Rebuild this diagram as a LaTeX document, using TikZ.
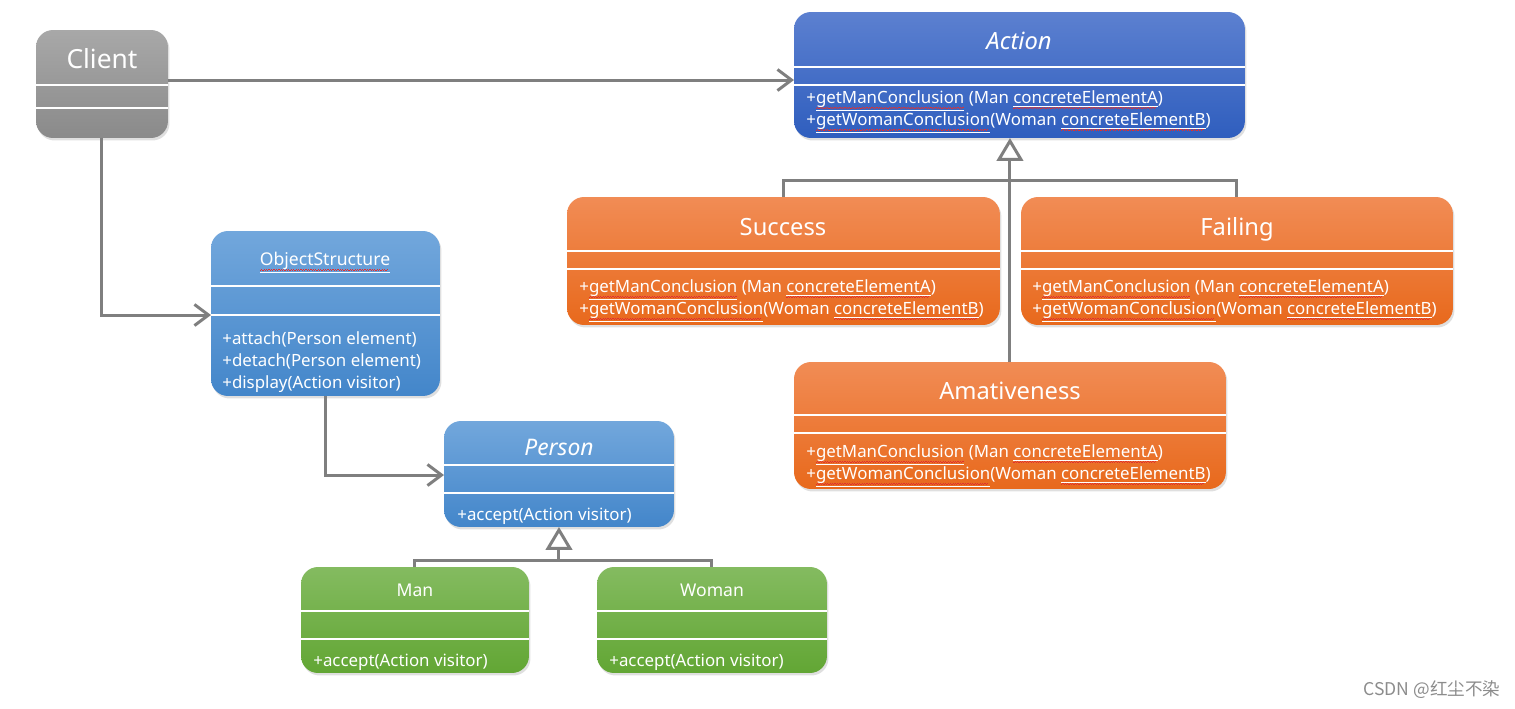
\documentclass[tikz,border=0pt]{standalone}
\usepackage{fontspec}
\setmainfont{Noto Sans}
\newfontfamily\cjkfont{Noto Sans CJK SC}
\usetikzlibrary{arrows.meta,shadows}

\definecolor{linegray}{HTML}{7F7F7F}
\definecolor{grayTop}{HTML}{A8A8A8}
\definecolor{grayBot}{HTML}{8A8A8A}
\definecolor{navyTop}{HTML}{5C80D0}
\definecolor{navyBot}{HTML}{2F5EBE}
\definecolor{skyTop}{HTML}{72A7DC}
\definecolor{skyBot}{HTML}{4386CA}
\definecolor{orangeTop}{HTML}{F18C55}
\definecolor{orangeBot}{HTML}{E8691C}
\definecolor{greenTop}{HTML}{84BB60}
\definecolor{greenBot}{HTML}{62A634}
\definecolor{squiggle}{HTML}{E03030}

% underlined word with a small red zigzag below
\newcommand{\spell}[1]{%
  \setbox0\hbox{#1}%
  \rlap{\raisebox{-3.2pt}{\textcolor{squiggle}{\leaders\hbox to 1.4pt{\rule{0.7pt}{0.45pt}\rule[0.45pt]{0.7pt}{0.45pt}}\hskip\wd0}}}%
  \underline{#1}}

\tikzset{
  classbox/.style={draw=none, rounded corners=0.34cm, inner sep=0pt, outer sep=0pt,
    anchor=north west,
    drop shadow={shadow xshift=0.03cm, shadow yshift=-0.05cm, opacity=0.25}},
  graybox/.style={classbox, top color=grayTop, bottom color=grayBot},
  navybox/.style={classbox, top color=navyTop, bottom color=navyBot},
  skybox/.style={classbox, top color=skyTop, bottom color=skyBot},
  orangebox/.style={classbox, top color=orangeTop, bottom color=orangeBot},
  greenbox/.style={classbox, top color=greenTop, bottom color=greenBot},
  divider/.style={white, line width=0.6pt},
  bigtitle/.style={text=white, inner sep=0pt, text height=0.75em, text depth=0.25em,
    font=\fontsize{13.5}{16}\selectfont},
  smalltitle/.style={bigtitle, font=\fontsize{10}{12}\selectfont},
  method/.style={text=white, anchor=west, inner sep=0pt, text height=0.75em, text depth=0.25em,
    font=\fontsize{9.6}{12}\selectfont},
  link/.style={linegray, line width=1.7pt},
  assoc/.style={link, -{Straight Barb[length=8pt,width=12pt]}},
  inherit/.style={link, -{Triangle[open,fill=white,length=13pt,width=15pt]}},
}

\begin{document}
\begin{tikzpicture}[x=0.02cm,y=-0.02cm]
  \useasboundingbox (0,0) rectangle (1515,708);

  % client
  \node[graybox, minimum width=2.64cm, minimum height=2.16cm] (client) at (36,30) {};
  \node[bigtitle, font=\fontsize{15}{18}\selectfont] (client-t) at (102,64) {Client};
  \draw[divider] (client.west |- 0,85) -- (client.east |- 0,85);
  \draw[divider] (client.west |- 0,108) -- (client.east |- 0,108);

  % visitors
  \node[navybox, minimum width=9.02cm, minimum height=2.52cm] (action) at (794,12) {};
  \node[bigtitle] (action-t) at (1019,45) {\itshape Action};
  \draw[divider] (action.west |- 0,67) -- (action.east |- 0,67);
  \draw[divider] (action.west |- 0,85) -- (action.east |- 0,85);
  \node[method] (action-m1) at (806,99) {+\spell{getManConclusion} (Man \spell{concreteElementA})};
  \node[method] (action-m2) at (806,121) {+\spell{getWomanConclusion}(Woman \spell{concreteElementB})};

  \node[orangebox, minimum width=8.66cm, minimum height=2.56cm] (success) at (567,197) {};
  \node[bigtitle] (success-t) at (783,231) {Success};
  \draw[divider] (success.west |- 0,251) -- (success.east |- 0,251);
  \draw[divider] (success.west |- 0,269) -- (success.east |- 0,269);
  \node[method] (success-m1) at (579,288) {+\spell{getManConclusion} (Man \spell{concreteElementA})};
  \node[method] (success-m2) at (579,310) {+\spell{getWomanConclusion}(Woman \spell{concreteElementB})};

  \node[orangebox, minimum width=8.64cm, minimum height=2.56cm] (failing) at (1021,197) {};
  \node[bigtitle] (failing-t) at (1237,231) {Failing};
  \draw[divider] (failing.west |- 0,251) -- (failing.east |- 0,251);
  \draw[divider] (failing.west |- 0,269) -- (failing.east |- 0,269);
  \node[method] (failing-m1) at (1032,288) {+\spell{getManConclusion} (Man \spell{concreteElementA})};
  \node[method] (failing-m2) at (1032,310) {+\spell{getWomanConclusion}(Woman \spell{concreteElementB})};

  \node[orangebox, minimum width=8.64cm, minimum height=2.54cm] (amative) at (794,362) {};
  \node[bigtitle] (amative-t) at (1010,395) {Amativeness};
  \draw[divider] (amative.west |- 0,415) -- (amative.east |- 0,415);
  \draw[divider] (amative.west |- 0,433) -- (amative.east |- 0,433);
  \node[method] (amative-m1) at (806,453) {+\spell{getManConclusion} (Man \spell{concreteElementA})};
  \node[method] (amative-m2) at (806,475) {+\spell{getWomanConclusion}(Woman \spell{concreteElementB})};

  % elements
  \node[skybox, minimum width=4.58cm, minimum height=3.30cm] (objstruct) at (211,231) {};
  \node[smalltitle] (objstruct-t) at (325,261) {\spell{ObjectStructure}};
  \draw[divider] (objstruct.west |- 0,286) -- (objstruct.east |- 0,286);
  \draw[divider] (objstruct.west |- 0,315) -- (objstruct.east |- 0,315);
  \node[method] (objstruct-m1) at (222,340) {+attach(Person element)};
  \node[method] (objstruct-m2) at (222,362) {+detach(Person element)};
  \node[method] (objstruct-m3) at (222,384) {+display(Action visitor)};

  \node[skybox, minimum width=4.60cm, minimum height=2.12cm] (person) at (444,421) {};
  \node[bigtitle, font=\fontsize{13}{16}\selectfont] (person-t) at (559,451) {\itshape Person};
  \draw[divider] (person.west |- 0,465) -- (person.east |- 0,465);
  \draw[divider] (person.west |- 0,493) -- (person.east |- 0,493);
  \node[method] (person-m1) at (457,516) {+accept(Action visitor)};

  \node[greenbox, minimum width=4.56cm, minimum height=2.12cm] (man) at (301,567) {};
  \node[smalltitle] (man-t) at (415,592) {Man};
  \draw[divider] (man.west |- 0,611) -- (man.east |- 0,611);
  \draw[divider] (man.west |- 0,639) -- (man.east |- 0,639);
  \node[method] (man-m1) at (313,662) {+accept(Action visitor)};

  \node[greenbox, minimum width=4.60cm, minimum height=2.12cm] (woman) at (597,567) {};
  \node[smalltitle] (woman-t) at (712,592) {Woman};
  \draw[divider] (woman.west |- 0,611) -- (woman.east |- 0,611);
  \draw[divider] (woman.west |- 0,639) -- (woman.east |- 0,639);
  \node[method] (woman-m1) at (609,662) {+accept(Action visitor)};

  % connectors
  \draw[assoc] (client.east |- 0,80) -- (action.west |- 0,80);
  \draw[assoc] (client.south) |- (objstruct.west |- 0,315);
  \draw[assoc] (objstruct.south) |- (person.west |- 0,475);

  \draw[link] (success.north) -- ++(0,-17) -| (failing.north);
  \draw[inherit] (amative.north) -- (amative.north |- action.south);

  \draw[link] (man.north) -- ++(0,-7) -| (woman.north);
  \draw[inherit] (person.south |- 0,560) -- (person.south);

  \node[text=black!45, font=\cjkfont\fontsize{10}{12}\selectfont] (watermark) at (1432,690) {CSDN @红尘不染};
\end{tikzpicture}
\end{document}
